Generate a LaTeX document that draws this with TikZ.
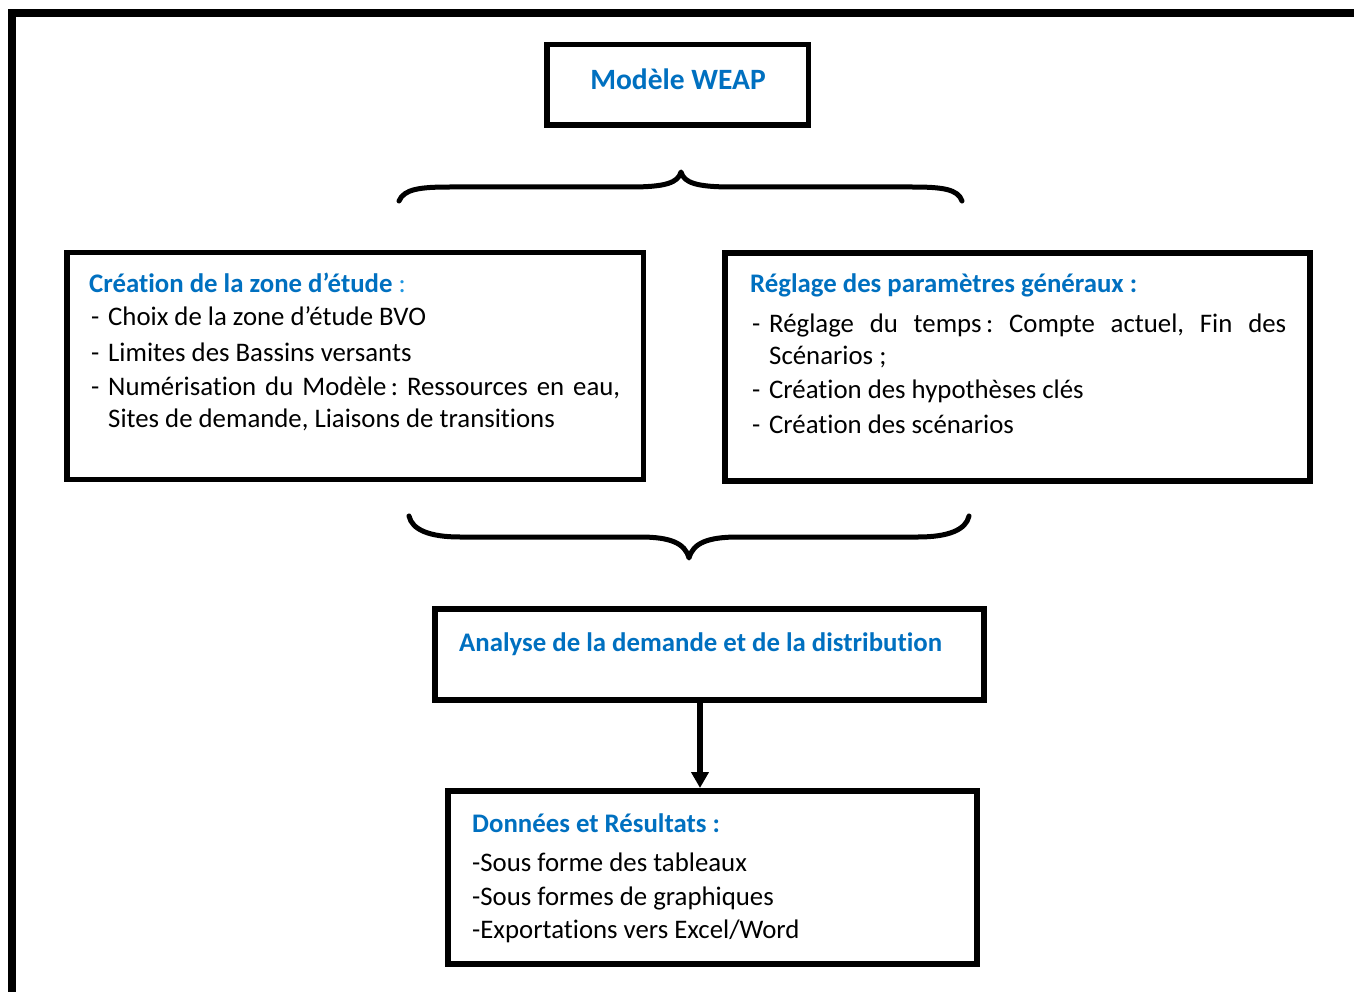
\documentclass[tikz,border=0pt]{standalone}
\usepackage{fontspec}
\setmainfont{Carlito}[Ligatures=NoCommon]
\usetikzlibrary{arrows.meta}
\definecolor{wblue}{RGB}{0,112,192}
\definecolor{lblue}{RGB}{30,150,225}
\frenchspacing
\begin{document}
\begin{tikzpicture}[x=1pt,y=-1pt,
  box/.style={draw=black,line width=6pt,rectangle,inner sep=0pt,fill=white},
  txt/.style={anchor=base west,inner sep=0pt,font=\fontsize{26.8}{30}\selectfont},
  head/.style={txt,text=wblue,font=\fontsize{26.8}{30}\selectfont\bfseries},
  brace/.style={line width=5pt,line cap=round,line join=round},
  flow/.style={line width=5.5pt,-{Triangle[length=16pt,width=17pt]}}]
\useasboundingbox (0,0) rectangle (1354,992);
% outer frame
\draw[line width=8pt,line join=miter] (12,1000) -- (12,13) -- (1360,13);
% boxes
\node[box,line width=5.5pt,minimum width=261.5pt,minimum height=80.5pt] (weap) at (677.5,85) {};
\node[box,line width=5.5pt,minimum width=576.5pt,minimum height=226.5pt] (zone) at (355,366) {};
\node[box,minimum width=585pt,minimum height=228pt] (param) at (1017.5,367) {};
\node[box,minimum width=549pt,minimum height=91pt] (ana) at (709.5,654.5) {};
\node[box,minimum width=529pt,minimum height=173pt] (don) at (712.5,877.5) {};
% title
\node[anchor=center,inner sep=0pt,text=wblue,font=\fontsize{29.5}{32}\selectfont\bfseries] (weapt) at (678,79) {Modèle WEAP};
% braces
\draw[brace] (399,201) .. controls (404,189) and (420,187) .. (450,187) -- (630,187) .. controls (665,187) and (678,183) .. (681,172) .. controls (684,183) and (697,187) .. (732,187) -- (912,187) .. controls (942,187) and (958,189) .. (962,201);
\draw[brace] (409,516) .. controls (412,530) and (430,537) .. (460,537) -- (640,537) .. controls (670,537) and (685,543) .. (689,558) .. controls (693,543) and (708,537) .. (738,537) -- (918,537) .. controls (948,537) and (966,530) .. (969,516);
% left box text
\node[head] (zh) at (89,292) {Création de la zone d’étude\mdseries\color{lblue}\ :};
\node[txt] (zd1) at (91,325) {-};
\node[txt] (z1) at (108,325) {Choix de la zone d’étude BVO};
\node[txt] (zd2) at (91,361) {-};
\node[txt] (z2) at (108,361) {Limites des Bassins versants};
\node[txt] (zd3) at (91,395) {-};
\node[txt] (z3) at (108,395) {\makebox[512pt][s]{Numérisation du Modèle\,: Ressources en eau,}};
\node[txt] (z4) at (108,427) {Sites de demande, Liaisons de transitions};
% right box text
\node[head] (ph) at (750,293) {Réglage des paramètres généraux :};
\node[txt] (pd1) at (752,332) {-};
\node[txt] (p1) at (769,332) {\makebox[517pt][s]{Réglage du temps\,: Compte actuel, Fin des}};
\node[txt] (p2) at (769,364) {Scénarios ;};
\node[txt] (pd3) at (752,398) {-};
\node[txt] (p3) at (769,398) {Création des hypothèses clés};
\node[txt] (pd4) at (752,433) {-};
\node[txt] (p4) at (769,433) {Création des scénarios};
% analysis
\node[head] (ah) at (459,651) {Analyse de la demande et de la distribution};
% results
\node[head] (dh) at (472,832) {Données et Résultats :};
\node[txt] (d1) at (472,871) {-Sous forme des tableaux};
\node[txt] (d2) at (472,905) {-Sous formes de graphiques};
\node[txt] (d3) at (472,938) {-Exportations vers Excel/Word};
% arrow
\draw[flow] (ana.south -| 700,0) -- (don.north -| 700,0);
\end{tikzpicture}
\end{document}
